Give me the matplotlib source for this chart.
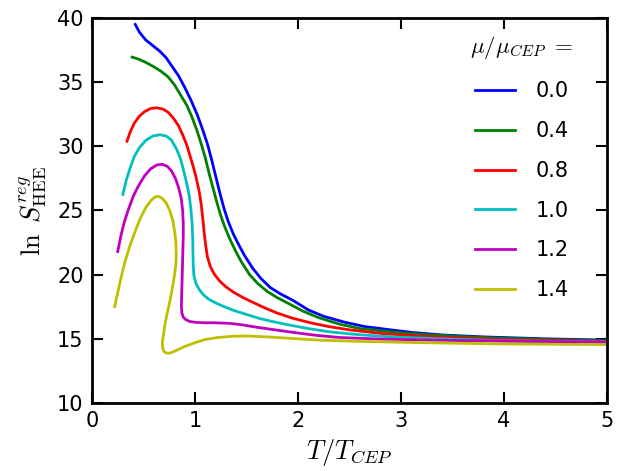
import matplotlib
matplotlib.use("Agg")
import matplotlib.pyplot as plt

plt.rcParams['mathtext.fontset'] = 'cm'
plt.rcParams['font.family'] = ['DejaVu Sans']

mu_labels = ["0.0", "0.4", "0.8", "1.0", "1.2", "1.4"]
colors = ["#0000ff", "#008000", "#ff0000", "#00bfbf", "#bf00bf", "#bfbf00"]

x_00 = [0.42, 0.46, 0.52, 0.59, 0.66, 0.72, 0.78, 0.84, 0.90, 0.96, 1.02, 1.07, 1.12, 1.16, 1.20, 1.24, 1.28, 1.32, 1.37, 1.42, 1.48, 1.56, 1.64, 1.73, 1.83, 1.95, 2.10, 2.25, 2.45, 2.65, 2.85, 3.10, 3.40, 3.80, 4.40, 5.00]
y_00 = [39.5, 38.9, 38.3, 37.85, 37.4, 36.9, 36.2, 35.5, 34.6, 33.6, 32.5, 31.4, 30.2, 29.0, 27.7, 26.4, 25.2, 24.2, 23.2, 22.4, 21.5, 20.5, 19.7, 19.0, 18.5, 18.0, 17.25, 16.75, 16.3, 15.95, 15.75, 15.5, 15.3, 15.15, 15.0, 14.9]

x_04 = [0.39, 0.45, 0.52, 0.60, 0.67, 0.74, 0.80, 0.86, 0.92, 0.97, 1.02, 1.06, 1.10, 1.14, 1.18, 1.21, 1.25, 1.29, 1.34, 1.39, 1.45, 1.53, 1.61, 1.70, 1.80, 1.92, 2.05, 2.20, 2.40, 2.60, 2.83, 3.10, 3.40, 3.80, 4.40, 5.00]
y_04 = [36.95, 36.8, 36.55, 36.2, 35.85, 35.4, 34.8, 34.0, 33.2, 32.3, 31.2, 30.2, 29.1, 27.8, 26.6, 25.7, 24.6, 23.7, 22.75, 21.9, 21.0, 20.0, 19.3, 18.7, 18.2, 17.7, 17.15, 16.65, 16.15, 15.8, 15.6, 15.4, 15.25, 15.1, 14.95, 14.85]

x_08 = [0.34, 0.37, 0.41, 0.46, 0.51, 0.57, 0.63, 0.69, 0.74, 0.79, 0.84, 0.88, 0.92, 0.95, 0.98, 1.01, 1.04, 1.06, 1.075, 1.09, 1.105, 1.12, 1.15, 1.19, 1.24, 1.30, 1.38, 1.47, 1.56, 1.68, 1.80, 1.95, 2.12, 2.30, 2.50, 2.83, 3.20, 3.60, 4.20, 5.00]
y_08 = [30.4, 31.1, 31.8, 32.35, 32.7, 32.95, 33.0, 32.9, 32.65, 32.2, 31.6, 30.9, 30.1, 29.3, 28.5, 27.6, 26.5, 25.5, 24.4, 23.2, 22.2, 21.4, 20.6, 20.0, 19.5, 19.05, 18.6, 18.2, 17.85, 17.4, 17.0, 16.6, 16.25, 15.95, 15.7, 15.4, 15.2, 15.05, 14.9, 14.8]

x_10 = [0.30, 0.33, 0.37, 0.41, 0.46, 0.52, 0.59, 0.66, 0.72, 0.77, 0.82, 0.86, 0.89, 0.92, 0.945, 0.96, 0.972, 0.978, 0.98, 0.983, 0.99, 1.01, 1.04, 1.08, 1.13, 1.20, 1.27, 1.38, 1.50, 1.62, 1.75, 1.90, 2.10, 2.30, 2.55, 2.90, 3.40, 4.00, 5.00]
y_10 = [26.25, 27.3, 28.3, 29.2, 29.9, 30.45, 30.8, 30.9, 30.8, 30.5, 29.8, 29.0, 28.1, 27.1, 26.1, 25.1, 24.0, 22.8, 21.7, 20.7, 19.9, 19.3, 18.85, 18.45, 18.1, 17.8, 17.55, 17.2, 16.9, 16.6, 16.35, 16.1, 15.8, 15.55, 15.35, 15.15, 15.0, 14.85, 14.75]

x_12 = [0.25, 0.28, 0.31, 0.35, 0.40, 0.45, 0.51, 0.57, 0.63, 0.68, 0.73, 0.77, 0.81, 0.84, 0.865, 0.88, 0.886, 0.886, 0.882, 0.878, 0.874, 0.870, 0.868, 0.873, 0.885, 0.91, 0.95, 1.01, 1.10, 1.20, 1.34, 1.45, 1.60, 1.82, 2.00, 2.20, 2.41, 2.80, 3.40, 4.20, 5.00]
y_12 = [21.8, 23.0, 24.0, 25.0, 26.1, 26.9, 27.7, 28.25, 28.55, 28.6, 28.45, 28.1, 27.5, 26.8, 26.0, 25.0, 24.0, 23.0, 21.8, 20.6, 19.4, 18.3, 17.5, 17.0, 16.7, 16.5, 16.35, 16.28, 16.25, 16.25, 16.2, 16.1, 15.9, 15.65, 15.45, 15.25, 15.1, 14.98, 14.88, 14.8, 14.75]

x_14 = [0.22, 0.25, 0.28, 0.32, 0.37, 0.42, 0.47, 0.52, 0.57, 0.61, 0.645, 0.68, 0.72, 0.755, 0.785, 0.805, 0.815, 0.818, 0.815, 0.805, 0.79, 0.77, 0.75, 0.73, 0.71, 0.695, 0.683, 0.685, 0.70, 0.72, 0.745, 0.77, 0.82, 0.90, 1.00, 1.10, 1.22, 1.37, 1.50, 1.70, 1.90, 2.20, 2.60, 3.20, 4.00, 5.00]
y_14 = [17.5, 18.6, 19.7, 21.0, 22.3, 23.4, 24.4, 25.2, 25.75, 26.05, 26.1, 25.95, 25.6, 25.0, 24.2, 23.2, 22.4, 21.6, 20.9, 20.2, 19.4, 18.5, 17.7, 17.0, 16.2, 15.4, 14.75, 14.3, 14.0, 13.9, 13.88, 13.92, 14.1, 14.4, 14.7, 14.95, 15.1, 15.2, 15.22, 15.15, 15.05, 14.9, 14.8, 14.7, 14.6, 14.55]

series_x = [x_00, x_04, x_08, x_10, x_12, x_14]
series_y = [y_00, y_04, y_08, y_10, y_12, y_14]

fig = plt.figure(figsize=(6.28, 4.71), dpi=100)
ax = fig.add_axes([0.1465, 0.1444, 0.8201, 0.8174])

for xs, ys, c, lab in zip(series_x, series_y, colors, mu_labels):
    ax.plot(xs, ys, color=c, lw=2, label=lab, solid_joinstyle='round')

ax.set_xlim(0, 5)
ax.set_ylim(10, 40)
ax.set_xticks([0, 1, 2, 3, 4, 5])
ax.set_yticks([10, 15, 20, 25, 30, 35, 40])
ax.tick_params(direction='in', which='both', top=True, right=True,
               length=8, width=1.5, labelsize=15, pad=6)
for s in ax.spines.values():
    s.set_linewidth(2)

ax.set_xlabel(r'$T/T_{CEP}$', fontsize=19, labelpad=4)
ax.set_ylabel(r'$\ln\ S^{reg}_{\rm HEE}$', fontsize=19, labelpad=6)

leg = ax.legend(title=r'$\mu/\mu_{CEP}\ =$', frameon=False, fontsize=15,
                title_fontsize=16.5, loc='upper right', bbox_to_anchor=(0.972, 1.006),
                handlelength=1.9, labelspacing=0.95, handletextpad=1.0)

fig.savefig('out.png', dpi=100)
